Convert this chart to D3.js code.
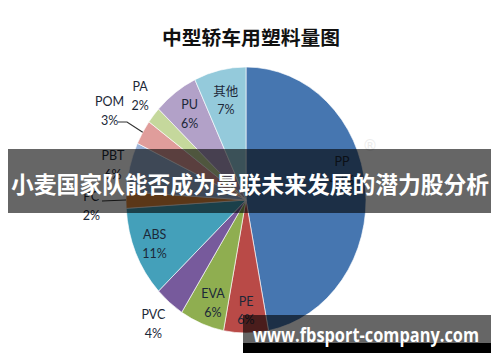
<!DOCTYPE html>
<html><head><meta charset="utf-8">
<script src="https://cdn.jsdelivr.net/npm/d3@7"></script>
<style>
html,body{margin:0;padding:0;background:#fff;}
svg{display:block;}
</style></head>
<body>
<svg id="chart" width="500" height="362"></svg>
<script>
// ---- data ----
const categories = ["PP","PE","EVA","PVC","ABS","PC","PBT","POM","PA","PU","其他"];
const shares = [47, 6, 6, 4, 11, 2, 6, 3, 2, 6, 7];
const pctLabels = ["47%","6%","6%","4%","11%","2%","6%","3%","2%","6%","7%"];
const titleText = "中型轿车用塑料量图";
const bannerText = "小麦国家队能否成为曼联未来发展的潜力股分析";
const watermarkText = "www.fbsport-company.com";

// ---- styles / layout ----
const colors = ["#4676b0","#b94a47","#8fae50","#775a9c","#44a0ba","#e3893c","#9cb3d8","#e09d9b","#c5d89c","#b2a1c8","#94cadb"];
const labelLayout = {
  "PP":{r:0.83,da:-10}, "PE":{r:0.83}, "EVA":{r:0.82,da:-2}, "PVC":{r:1.21},
  "ABS":{r:0.83}, "PC":{r:1.29,da:-2}, "PBT":{r:1.14,da:-1}, "POM":{r:1.32},
  "PA":{r:1.18,da:2}, "PU":{r:0.8}, "其他":{r:0.77}
};
const leaders = {"POM":[[118,122],[127,122]], "PC":[[102,201]]};
const cx = 246, cy = 200, R = 120, sy = 133/120;

const svg = d3.select("#chart");

// title
svg.append("text").attr("x", 251).attr("y", 36)
  .attr("text-anchor","middle").attr("dominant-baseline","central")
  .attr("font-family","'Noto Sans CJK SC'").attr("font-weight",700)
  .attr("font-size",19).attr("fill","#111")
  .attr("textLength",178).attr("lengthAdjust","spacingAndGlyphs")
  .text(titleText);

const data = categories.map((c,i)=>({cat:c, value:shares[i], pct:pctLabels[i], color:colors[i]}));
const pie = d3.pie().value(d=>d.value).sort(null);
const arcs = pie(data);
const arc = d3.arc().innerRadius(0).outerRadius(R);

const g = svg.append("g").attr("transform",`translate(${cx},${cy}) scale(1,${sy})`);
g.selectAll("path").data(arcs).join("path")
  .attr("d", arc).attr("fill", d=>d.data.color)
  .attr("stroke","#fff").attr("stroke-width",0.6);

function pt(angle, k){
  return [cx + Math.sin(angle)*R*k, cy - Math.cos(angle)*R*k*sy];
}

// leader lines
arcs.forEach(a=>{
  const L = leaders[a.data.cat];
  if(!L) return;
  const mid = (a.startAngle+a.endAngle)/2;
  const end = pt(mid, 1.0);
  const pts = L.concat([end]);
  svg.append("path").attr("d", d3.line()(pts))
    .attr("fill","none").attr("stroke","#333").attr("stroke-width",1.2);
});

// labels
const lab = svg.append("g");
arcs.forEach(a=>{
  const cfg = labelLayout[a.data.cat];
  const mid = (a.startAngle+a.endAngle)/2 + (cfg.da||0)*Math.PI/180;
  const [x,y] = pt(mid, cfg.r);
  const t = lab.append("text").attr("text-anchor","middle")
    .attr("font-family","Lato, 'Noto Sans CJK SC', sans-serif")
    .attr("font-size",12.5).attr("fill","#1c2838");
  t.append("tspan").attr("x",x).attr("y",y-9).attr("dominant-baseline","central").text(a.data.cat);
  t.append("tspan").attr("x",x).attr("y",y+9.5).attr("dominant-baseline","central").text(a.data.pct);
});

// faint registered mark
svg.append("text").attr("x",370).attr("y",146).attr("text-anchor","middle")
  .attr("dominant-baseline","central").attr("font-family","DejaVu Sans")
  .attr("font-size",15).attr("fill","#ececec").text("®");

// banner overlay
svg.append("rect").attr("x",8).attr("y",149).attr("width",483).attr("height",64)
  .attr("fill","#000").attr("fill-opacity",0.6);
svg.append("text").attr("x",250).attr("y",183)
  .attr("text-anchor","middle").attr("dominant-baseline","central")
  .attr("font-family","'Noto Sans CJK SC'").attr("font-weight",700)
  .attr("font-size",22.5).attr("fill","#fff")
  .attr("textLength",478).attr("lengthAdjust","spacingAndGlyphs")
  .text(bannerText);

// watermark
svg.append("rect").attr("x",243).attr("y",315).attr("width",248).attr("height",28)
  .attr("fill","#000").attr("fill-opacity",0.6);
svg.append("rect").attr("x",243).attr("y",343).attr("width",248).attr("height",10)
  .attr("fill","#000");
svg.append("text").attr("x",253).attr("y",342)
  .attr("font-family","'Open Sans', sans-serif").attr("font-weight",700)
  .attr("font-size",19).attr("fill","#fff")
  .attr("textLength",226).attr("lengthAdjust","spacingAndGlyphs")
  .text(watermarkText);
</script>
</body></html>
